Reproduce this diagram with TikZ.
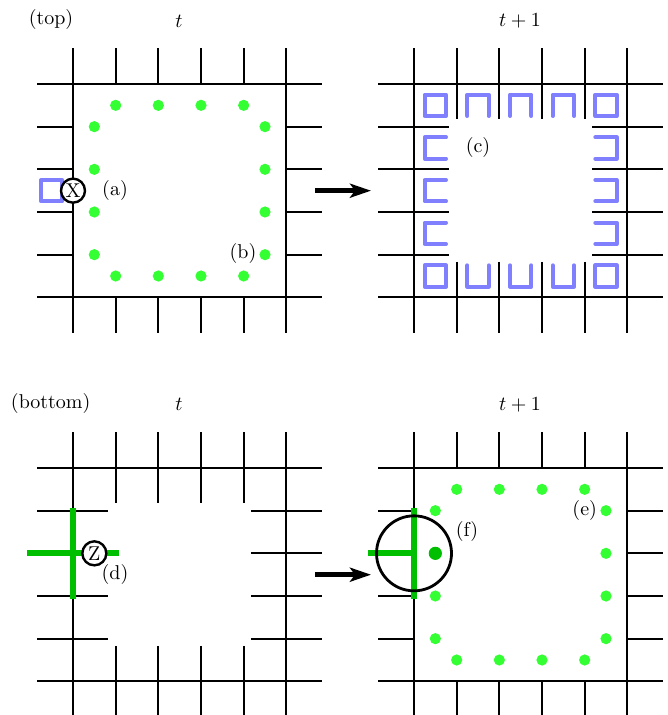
\documentclass[tikz,border=0pt]{standalone}
\usetikzlibrary{arrows.meta}
\definecolor{dotgreen}{rgb}{0.2,1,0.2}
\definecolor{barblue}{rgb}{0.5,0.5,1}
\definecolor{bargreen}{rgb}{0,0.75,0}
\tikzset{
  gridline/.style={black,line width=0.95pt},
  dotfill/.style={circle,fill=dotgreen,inner sep=0pt,minimum size=5.6pt},
  bluebar/.style={barblue,line width=2pt,line cap=round,line join=round},
  greenbar/.style={bargreen,line width=3pt},
  qubit/.style={circle,draw=black,fill=white,line width=1.2pt,inner sep=0pt,minimum size=12pt},
  bigarrow/.style={line width=2.4pt,-{Stealth[length=10.5pt,width=7pt,inset=2.5pt]}},
  panel/.style={x=21.333pt,y=-21.333pt},
  lbl/.style={inner sep=0pt}
}
% outer frame of a panel
\newcommand{\frameH}{\foreach \r in {0,5}{\draw[gridline] (-0.84,\r) -- (5.84,\r);}}
\newcommand{\frameV}{\foreach \c in {0,5}{\draw[gridline] (\c,-0.84) -- (\c,5.84);}}
% stubs for the open-interior panels
\newcommand{\stubsOut}{%
  \foreach \c in {1,...,4}{\draw[gridline] (\c,-0.84) -- (\c,0); \draw[gridline] (\c,5) -- (\c,5.84);}
  \foreach \r in {1,...,4}{\draw[gridline] (-0.84,\r) -- (0,\r); \draw[gridline] (5,\r) -- (5.84,\r);}}
\newcommand{\stubsIn}{%
  \foreach \c in {1,...,4}{\draw[gridline] (\c,-0.84) -- (\c,0.81); \draw[gridline] (\c,4.17) -- (\c,5.84);}
  \foreach \r in {1,...,4}{\draw[gridline] (-0.84,\r) -- (0.82,\r); \draw[gridline] (4.17,\r) -- (5.84,\r);}}
\begin{document}
\begin{tikzpicture}[x=0.5pt,y=-0.5pt]
\useasboundingbox (0,0) rectangle (667,715);

% ---------- top left
\begin{scope}[shift={(73,84)},panel]
  \frameH \frameV \stubsOut
  \foreach \i in {1,...,4}{
    \node[dotfill] (ta\i) at (\i,0.5) {};
    \node[dotfill] (tb\i) at (\i,4.5) {};
    \node[dotfill] (tc\i) at (0.5,\i) {};
    \node[dotfill] (td\i) at (4.5,\i) {};
  }
  \draw[bluebar] (-0.75,2.25) rectangle (-0.25,2.75);
  \node[qubit] (X) at (0,2.5) {X};
\end{scope}

% ---------- top right
\begin{scope}[shift={(414,84)},panel]
  \frameH \frameV \stubsIn
  \foreach \c/\r in {0/0,4/0,0/4,4/4}{
    \draw[bluebar] (\c+0.25,\r+0.25) rectangle (\c+0.75,\r+0.75);
  }
  \foreach \i in {1,2,3}{
    \draw[bluebar] (\i+0.25,0.75) -- (\i+0.25,0.25) -- (\i+0.75,0.25) -- (\i+0.75,0.75);
    \draw[bluebar] (\i+0.25,4.25) -- (\i+0.25,4.75) -- (\i+0.75,4.75) -- (\i+0.75,4.25);
    \draw[bluebar] (0.75,\i+0.25) -- (0.25,\i+0.25) -- (0.25,\i+0.75) -- (0.75,\i+0.75);
    \draw[bluebar] (4.25,\i+0.25) -- (4.75,\i+0.25) -- (4.75,\i+0.75) -- (4.25,\i+0.75);
  }
\end{scope}

% ---------- bottom left
\begin{scope}[shift={(73,468)},panel]
  \frameH \frameV \stubsIn
  \draw[greenbar] (-1.085,2) -- (1.07,2);
  \draw[greenbar] (0,0.93) -- (0,3.07);
  \node[qubit] (Z) at (0.5,2) {Z};
\end{scope}

% ---------- bottom right
\begin{scope}[shift={(414,468)},panel]
  \frameH \frameV \stubsOut
  \foreach \i in {1,...,4}{
    \node[dotfill] (ba\i) at (\i,0.5) {};
    \node[dotfill] (bb\i) at (\i,4.5) {};
    \node[dotfill] (bd\i) at (4.5,\i) {};
  }
  \foreach \i in {1,3,4}{\node[dotfill] (bc\i) at (0.5,\i) {};}
  \draw[greenbar] (-1.07,2) -- (0.07,2);
  \draw[greenbar] (0,0.93) -- (0,3.07);
  \node[circle,fill=bargreen,inner sep=0pt,minimum size=6.6pt] (bigdot) at (0.5,2) {};
  \node[circle,draw=black,line width=1.4pt,inner sep=0pt,minimum size=37.5pt] (F) at (0,2) {};
\end{scope}

% ---------- arrows
\coordinate (a1s) at (315,190.7); \coordinate (a1e) at (371,190.7);
\coordinate (a2s) at (315,574.7); \coordinate (a2e) at (371,574.7);
\draw[bigarrow] (a1s) -- (a1e);
\draw[bigarrow] (a2s) -- (a2e);

% ---------- labels
\node[lbl] (ltop) at (51,20) {(top)};
\node[lbl] (lt1) at (179,21) {$t$};
\node[lbl] (lt2) at (520,21) {$t+1$};
\node[lbl] (la) at (115,190.7) {(a)};
\node[lbl] (lb) at (243,254) {(b)};
\node[lbl] (lc) at (478,148) {(c)};
\node[lbl] (lbot) at (50.7,403) {(bottom)};
\node[lbl] (lt3) at (179,404) {$t$};
\node[lbl] (lt4) at (520,405) {$t+1$};
\node[lbl] (ld) at (115,574) {(d)};
\node[lbl] (le) at (584.7,510.7) {(e)};
\node[lbl] (lf) at (467,531.7) {(f)};
\end{tikzpicture}
\end{document}
